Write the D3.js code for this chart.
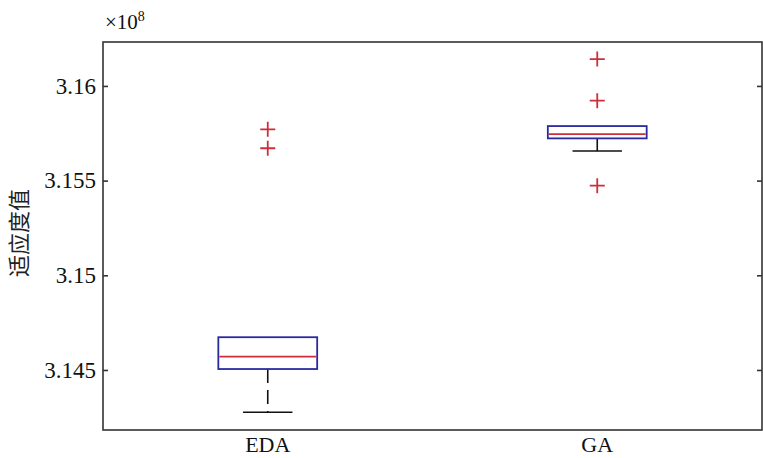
<!DOCTYPE html>
<html>
<head>
<meta charset="utf-8">
<script src="https://cdn.jsdelivr.net/npm/d3@7"></script>
<style>
  body { margin: 0; background: #fff; }
  svg { display: block; }
</style>
</head>
<body>
<svg width="763" height="458"></svg>
<script>
// values in units of 1e8
const CATEGORIES = ["EDA", "GA"];
const Q1 = [3.14505, 3.15723];
const MEDIANS = [3.1457, 3.15746];
const Q3 = [3.14673, 3.15788];
const WHISKER_LOW = [3.14277, 3.15656];
const WHISKER_HIGH = [3.14673, 3.15788];
const OUTLIERS = [
  [3.15771, 3.15671],
  [3.16142, 3.15922, 3.15473],
];
const Y_TICKS = [3.145, 3.15, 3.155, 3.16];

const PLOT = { left: 103, right: 762, top: 42, bottom: 430 };
const SERIF = "'Liberation Serif', 'Times New Roman', serif";
const BLUE = "#2a2aa0";
const RED = "#cc2f3a";

const svg = d3.select("svg");

const x = d3
  .scalePoint()
  .domain(CATEGORIES)
  .range([PLOT.left, PLOT.right])
  .padding(0.5);
const y = d3
  .scaleLinear()
  .domain([3.14183, 3.16232])
  .range([PLOT.bottom, PLOT.top]);

const boxW = x.step() * 0.3;
const capW = x.step() * 0.15;

// frame
svg
  .append("rect")
  .attr("x", PLOT.left)
  .attr("y", PLOT.top)
  .attr("width", PLOT.right - PLOT.left)
  .attr("height", PLOT.bottom - PLOT.top)
  .attr("fill", "none")
  .attr("stroke", "#333")
  .attr("stroke-width", 1.6);

const fmt = (d) => String(+d.toFixed(3));

const left = svg
  .append("g")
  .attr("transform", `translate(${PLOT.left},0)`)
  .call(
    d3.axisLeft(y).tickValues(Y_TICKS).tickSize(-5).tickPadding(7).tickFormat(fmt)
  );
const right = svg
  .append("g")
  .attr("transform", `translate(${PLOT.right},0)`)
  .call(d3.axisRight(y).tickValues(Y_TICKS).tickSize(-5).tickFormat(""));

[left, right].forEach((g) => {
  g.select(".domain").remove();
  g.selectAll("line").attr("stroke", "#333").attr("stroke-width", 1.6);
  g.selectAll("text")
    .attr("fill", "#111")
    .style("font-family", SERIF)
    .style("font-size", "23px");
});

// x labels
svg
  .append("g")
  .selectAll("text")
  .data(CATEGORIES)
  .join("text")
  .attr("x", (d) => x(d))
  .attr("y", 452)
  .attr("text-anchor", "middle")
  .attr("fill", "#111")
  .style("font-family", SERIF)
  .style("font-size", "22px")
  .text((d) => d);

// exponent
const expo = svg
  .append("text")
  .attr("x", 105)
  .attr("y", 29)
  .attr("fill", "#111")
  .style("font-family", SERIF)
  .style("font-size", "21px");
expo.append("tspan").text("×10");
expo.append("tspan").attr("dy", -8).style("font-size", "14px").text("8");

// y label
svg
  .append("text")
  .attr("transform", "translate(27,233) rotate(-90)")
  .attr("text-anchor", "middle")
  .attr("fill", "#222")
  .style("font-family", "'Noto Sans CJK SC', sans-serif")
  .style("font-size", "22px")
  .text("适应度值");

// boxes
const boxes = svg
  .append("g")
  .selectAll("g")
  .data(CATEGORIES)
  .join("g");

boxes
  .append("line")
  .attr("x1", (d) => x(d))
  .attr("x2", (d) => x(d))
  .attr("y1", (d, i) => y(Q1[i]))
  .attr("y2", (d, i) => y(WHISKER_LOW[i]))
  .attr("stroke", "#111")
  .attr("stroke-width", 1.6)
  .attr("stroke-dasharray", "14,7");

boxes
  .append("line")
  .attr("x1", (d) => x(d))
  .attr("x2", (d) => x(d))
  .attr("y1", (d, i) => y(Q3[i]))
  .attr("y2", (d, i) => y(WHISKER_HIGH[i]))
  .attr("stroke", "#111")
  .attr("stroke-width", 1.6)
  .attr("stroke-dasharray", "14,7");

boxes
  .append("line")
  .attr("x1", (d) => x(d) - capW / 2)
  .attr("x2", (d) => x(d) + capW / 2)
  .attr("y1", (d, i) => y(WHISKER_LOW[i]))
  .attr("y2", (d, i) => y(WHISKER_LOW[i]))
  .attr("stroke", "#111")
  .attr("stroke-width", 1.6);

boxes
  .append("rect")
  .attr("x", (d) => x(d) - boxW / 2)
  .attr("width", boxW)
  .attr("y", (d, i) => y(Q3[i]))
  .attr("height", (d, i) => y(Q1[i]) - y(Q3[i]))
  .attr("fill", "none")
  .attr("stroke", BLUE)
  .attr("stroke-width", 1.8);

boxes
  .append("line")
  .attr("x1", (d) => x(d) - boxW / 2 + 1)
  .attr("x2", (d) => x(d) + boxW / 2 - 1)
  .attr("y1", (d, i) => y(MEDIANS[i]))
  .attr("y2", (d, i) => y(MEDIANS[i]))
  .attr("stroke", RED)
  .attr("stroke-width", 1.8);

// outliers
const pts = CATEGORIES.flatMap((c, i) => OUTLIERS[i].map((v) => ({ c, v })));
const plus = svg.append("g").selectAll("path").data(pts).join("path");
plus
  .attr("d", (d) => {
    const cx = x(d.c);
    const cy = y(d.v);
    return `M${cx - 7.5},${cy}H${cx + 7.5}M${cx},${cy - 7.5}V${cy + 7.5}`;
  })
  .attr("stroke", RED)
  .attr("stroke-width", 1.8)
  .attr("fill", "none");
</script>
</body>
</html>
